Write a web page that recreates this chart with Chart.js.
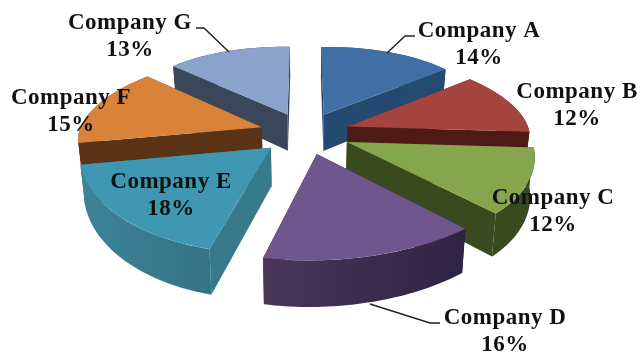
<!DOCTYPE html>
<html>
<head>
<meta charset="utf-8">
<style>html,body{margin:0;padding:0;background:#fff}#wrap{width:640px;height:354px}</style>
<script src="https://cdn.jsdelivr.net/npm/chart.js@4/dist/chart.umd.min.js"></script>
</head>
<body>
<div id="wrap"><canvas id="pie" width="640" height="354"></canvas></div>
<script>
// Market share per company
const companies = ['Company A','Company B','Company C','Company D','Company E','Company F','Company G'];
const shares = [14, 12, 12, 16, 18, 15, 13];

// Slice colours: top face, cut face, outer wall (left and right end of its shading)
const topColors = ['#3f6fa4','#a5433f','#86a64e','#6f568c','#3f97b1','#d8823a','#8aa3cb'];
const cutColors = ['#244a6f','#4e1a15','#3a4a1f','#3a2c4c','#367a8c','#5a3316','#3a475b'];
const wallLeft  = ['#2a527a','#4e1a15','#3a4a1f','#4a3658','#3d8499','#5a3316','#3a475b'];
const wallRight = ['#244a6f','#4e1a15','#3a4a1f','#2e2342','#357385','#5a3316','#3a475b'];

// Label centres and leader lines
const labelCenters = [[479,31],[577,92],[553,198],[505,318],[171,182],[71,98],[130,23]];
const labelLineGap = 27;
const leaders = [
  [[387,53],[405,36],[415,36]],
  [[370,304],[430,323],[440,323]],
  [[229,52],[204,28],[196,28]]
];

// Camera: where the pie centre lands, its projected radii, perspective strength,
// and how far the lower rim pulls in towards the centre
const view = {cx:305, cy:133, rx:182, ry:83.6, persp:0.157, explode:0.25, height:37.5, floorScale:0.98};

function project(X, Y) {
  const s = 1 / (1 - view.persp * Y);
  return {x: view.cx + view.rx * X * s, y: view.cy + view.ry * Y * s, s};
}

// Extruded, exploded slices: the arcs stay library elements, redrawn under a per-slice transform
const pie3d = {
  id: 'pie3d',
  beforeDatasetDraw(chart, args) {
    const ctx = chart.ctx;
    const arcs = chart.getDatasetMeta(args.index).data;
    const slices = arcs.map((arc, i) => {
      const mid = (arc.startAngle + arc.endAngle) / 2;
      return {arc, i, mid, ox: Math.cos(mid) * view.explode, oy: Math.sin(mid) * view.explode};
    }).sort((a, b) => a.oy - b.oy);

    for (const sl of slices) {
      const {arc, i, ox, oy} = sl;
      const a0 = arc.startAngle, a1 = arc.endAngle, r = arc.outerRadius;
      const C = project(ox, oy);
      const S = project(ox + Math.cos(a0), oy + Math.sin(a0));
      const E = project(ox + Math.cos(a1), oy + Math.sin(a1));

      // Affine map taking the flat sector on to its projected corners
      const ux = r * Math.cos(a0), uy = r * Math.sin(a0);
      const vx = r * Math.cos(a1), vy = r * Math.sin(a1);
      const det = ux * vy - uy * vx;
      const Ux = S.x - C.x, Uy = S.y - C.y, Vx = E.x - C.x, Vy = E.y - C.y;
      const m = {
        a: (Ux * vy - Vx * uy) / det, c: (Vx * ux - Ux * vx) / det,
        b: (Uy * vy - Vy * uy) / det, d: (Vy * ux - Uy * vx) / det
      };
      const edge = t => {
        const ang = a0 + (a1 - a0) * t;
        const px = r * Math.cos(ang), py = r * Math.sin(ang);
        const q = project(ox + Math.cos(ang), oy + Math.sin(ang));
        return {x: C.x + m.a * px + m.c * py, y: C.y + m.b * px + m.d * py, s: q.s};
      };
      const dropX = p => view.cx + (p.x - view.cx) * view.floorScale;
      const dropY = p => p.y + view.height * p.s;

      // Cut faces along both radial edges
      ctx.fillStyle = cutColors[i];
      for (const P of [S, E]) {
        ctx.beginPath();
        ctx.moveTo(C.x, C.y);
        ctx.lineTo(P.x, P.y);
        ctx.lineTo(dropX(P), dropY(P));
        ctx.lineTo(dropX(C), dropY(C));
        ctx.closePath();
        ctx.fill();
      }

      // Outer wall
      const steps = 40, pts = [];
      for (let k = 0; k <= steps; k++) pts.push(edge(k / steps));
      const xs = pts.map(p => p.x);
      const grad = ctx.createLinearGradient(Math.min(...xs), 0, Math.max(...xs), 0);
      grad.addColorStop(0, wallLeft[i]);
      grad.addColorStop(1, wallRight[i]);
      ctx.fillStyle = grad;
      ctx.beginPath();
      pts.forEach((p, k) => k ? ctx.lineTo(p.x, p.y) : ctx.moveTo(p.x, p.y));
      for (let k = steps; k >= 0; k--) ctx.lineTo(dropX(pts[k]), dropY(pts[k]));
      ctx.closePath();
      ctx.fill();

      // Top face
      ctx.save();
      ctx.transform(m.a, m.b, m.c, m.d,
        C.x - m.a * arc.x - m.c * arc.y,
        C.y - m.b * arc.x - m.d * arc.y);
      arc.draw(ctx);
      ctx.restore();
    }
    return false;
  },
  afterDraw(chart) {
    const ctx = chart.ctx;
    ctx.save();
    ctx.strokeStyle = '#222';
    ctx.lineWidth = 1.5;
    for (const line of leaders) {
      ctx.beginPath();
      line.forEach((p, k) => k ? ctx.lineTo(p[0], p[1]) : ctx.moveTo(p[0], p[1]));
      ctx.stroke();
    }
    ctx.fillStyle = '#111';
    ctx.font = 'bold 23px "Liberation Serif"';
    ctx.letterSpacing = '0.5px';
    ctx.textAlign = 'center';
    ctx.textBaseline = 'middle';
    companies.forEach((name, i) => {
      const [x, y] = labelCenters[i];
      ctx.fillText(name, x, y);
      ctx.fillText(shares[i] + '%', x, y + labelLineGap);
    });
    ctx.restore();
  }
};

new Chart(document.getElementById('pie'), {
  type: 'pie',
  data: {
    labels: companies,
    datasets: [{data: shares, backgroundColor: topColors, borderWidth: 0}]
  },
  options: {
    responsive: false,
    animation: false,
    plugins: {legend: {display: false}, tooltip: {enabled: false}}
  },
  plugins: [pie3d]
});
</script>
</body>
</html>
